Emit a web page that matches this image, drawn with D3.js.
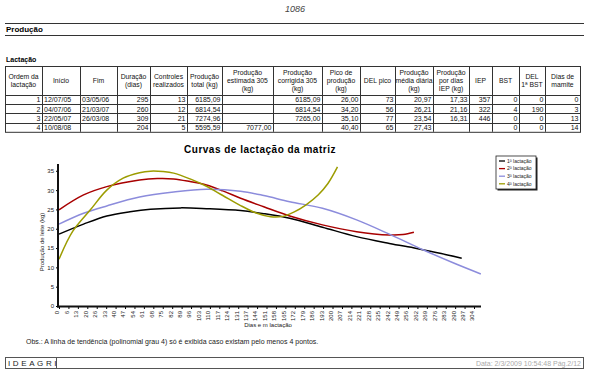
<!DOCTYPE html>
<html lang="pt">
<head>
<meta charset="UTF-8">
<title>Curvas de lactação</title>
<script src="https://d3js.org/d3.v7.min.js"></script>
<style>
    body{ margin:0; background:#fff; }
    text{ font-family: 'Liberation Sans', Arial, sans-serif; }
    .cell{ font-size: 7px; fill:#111; }
    .head{ font-size: 6.8px; fill:#111; text-anchor: middle; }
    .tick text{ font-size: 6px; fill:#222; }
</style>
</head>
<body>
<svg width="589" height="378"></svg>
<script>
    // ---- data ----
    const headers = [["Ordem da","lactação"],["Início"],["Fim"],["Duração","(dias)"],["Controles","realizados"],
        ["Produção","total (kg)"],["Produção","estimada 305","(kg)"],["Produção","corrigida 305","(kg)"],
        ["Pico de","produção","(kg)"],["DEL pico"],["Produção","média diária","(kg)"],["Produção","por dias","IEP (kg)"],
        ["IEP"],["BST"],["DEL","1ª BST"],["Dias de","mamite"]];
    const rows = [
        ["1","12/07/05","03/05/06","295","13","6185,09","","6185,09","26,00","73","20,97","17,33","357","0","0","0"],
        ["2","04/07/06","21/03/07","260","12","6814,54","","6814,54","34,20","56","26,21","21,16","322","4","190","3"],
        ["3","22/05/07","26/03/08","309","21","7274,96","","7265,00","35,10","77","23,54","16,31","446","0","0","13"],
        ["4","10/08/08","","204","5","5595,59","7077,00","","40,40","65","27,43","","","0","0","14"]
    ];
    const series = ["1ª lactação","2ª lactação","3ª lactação","4ª lactação"];
    // [dias, kg] points
    const lact1 = [[0,18.6],[18,21.2],[35,23.3],[52,24.4],[67,25.05],[89,25.4],[108,25.2],[133,24.7],[150,23.9],
        [169,22.7],[193,20.4],[218,17.96],[242,16.2],[262,14.9],[280,13.6],[295,12.35]];
    const lact2 = [[0,24.9],[18,28.75],[35,30.9],[59,32.6],[72,33.0],[84,32.9],[96,32.2],[108,31.3],[120,29.8],
        [133,27.9],[150,25.7],[169,23.3],[193,21.0],[218,19.25],[242,18.4],[252,18.5],[260,19.1]];
    const lact3 = [[0,21.2],[18,24.0],[35,25.9],[59,28.2],[84,29.5],[108,30.2],[133,29.7],[150,28.6],[169,27.0],
        [193,25.3],[218,22.3],[242,18.6],[267,14.5],[290,11.0],[309,8.3]];
    const lact4 = [[0,12.1],[10,19.3],[23,24.9],[35,30.0],[47,33.1],[59,34.5],[67,34.9],[76,34.8],[84,34.4],
        [96,32.9],[108,31.0],[120,28.6],[133,26.0],[145,24.0],[155,23.1],[164,23.2],[172,24.3],[181,26.2],
        [190,28.8],[197,31.7],[204,36.0]];
    const dayTicks = ["0","6","13","20","26","33","40","47","54","61","68","75","82","89","96","103","110","117",
        "124","131","137","144","151","158","165","172","179","186","193","200","207","214","221","228","235",
        "242","249","256","262","269","276","283","290","297","304"];
    const kgTicks = [0,5,10,15,20,25,30,35];

    const colors = ["#000000","#a80000","#8c8cdc","#9c9c00"];
    const svg = d3.select("svg");

    // ---- page header ----
    svg.append("text").text("1086").attr("x",295).attr("y",12)
        .attr("text-anchor","middle").style("font-size","9px").style("font-style","italic").attr("fill","#444");
    [23,35].forEach(y => svg.append("line").attr("x1",5).attr("x2",584).attr("y1",y+0.5).attr("y2",y+0.5)
        .attr("stroke","#333"));
    svg.append("text").text("Produção").attr("x",6).attr("y",32)
        .style("font-size","8px").style("font-weight","bold");
    svg.append("text").text("Lactação").attr("x",6).attr("y",62)
        .style("font-size","7px").style("font-weight","bold");

    // ---- table ----
    const colEdges = [5,42,80,117,150,187,222,273,322,360,395,433,469,492,519,545,580];
    const headTop = 66, headBot = 95, rowH = 9.2;
    const tb = svg.append("g").attr("class","table");
    const tableBot = headBot + rows.length*rowH;
    tb.append("rect").attr("x",colEdges[0]+0.5).attr("y",headTop+0.5)
        .attr("width",colEdges[colEdges.length-1]-colEdges[0]).attr("height",tableBot-headTop)
        .attr("fill","none").attr("stroke","#333");
    colEdges.slice(1,-1).forEach(x => tb.append("line").attr("x1",x+0.5).attr("x2",x+0.5)
        .attr("y1",headTop).attr("y2",tableBot).attr("stroke","#333"));
    d3.range(rows.length).forEach(i => tb.append("line").attr("x1",colEdges[0]).attr("x2",colEdges[colEdges.length-1])
        .attr("y1",Math.round(headBot+i*rowH)+0.5).attr("y2",Math.round(headBot+i*rowH)+0.5).attr("stroke","#333"));
    headers.forEach((lines,c) => {
        const cx = (colEdges[c]+colEdges[c+1])/2;
        const y0 = (headTop+headBot)/2 - (lines.length-1)*4 + 2.5;
        lines.forEach((t,k) => tb.append("text").attr("class","head").attr("x",cx).attr("y",y0+k*8).text(t));
    });
    rows.forEach((r,i) => {
        const y = headBot + i*rowH + 7.3;
        r.forEach((v,c) => {
            const left = (c === 1 || c === 2);
            tb.append("text").attr("class","cell")
                .attr("x", left ? colEdges[c]+2 : colEdges[c+1]-1.5)
                .attr("y", y).attr("text-anchor", left ? "start" : "end").text(v);
        });
    });

    // ---- chart ----
    const x = d3.scaleLinear().domain([0,304]).range([59,474]);
    const xBand = d3.scalePoint().domain(dayTicks).range([59,474]);
    const y = d3.scaleLinear().domain([0,36.5]).range([306,165]);

    svg.append("text").text("Curvas de lactação da matriz").attr("x",260).attr("y",153)
        .attr("text-anchor","middle").style("font-size","10px").style("font-weight","bold")
        .style("letter-spacing","0.5px");

    const line = d3.line().x(d => x(d[0])).y(d => y(d[1])).curve(d3.curveCatmullRom);
    [lact1,lact2,lact3,lact4].forEach((pts,i) => {
        svg.append("path").attr("d",line(pts)).attr("fill","none")
            .attr("stroke",colors[i]).attr("stroke-width",1.5);
    });

    const yG = svg.append("g").attr("transform","translate(58,0)")
        .call(d3.axisLeft(y).tickValues(kgTicks).tickSize(2).tickSizeOuter(0).tickPadding(2));
    yG.select(".domain").remove();
    const xG = svg.append("g").attr("transform","translate(0,307)")
        .call(d3.axisBottom(xBand).tickSize(2).tickSizeOuter(0));
    xG.select(".domain").remove();
    xG.selectAll(".tick text").attr("transform","rotate(-90)")
        .attr("text-anchor","end").attr("x",-4).attr("y",-2).attr("dy","0.32em");

    // heavy axis lines
    svg.append("line").attr("x1",58).attr("x2",58).attr("y1",164).attr("y2",307.5)
        .attr("stroke","#111").attr("stroke-width",2);
    svg.append("line").attr("x1",57).attr("x2",481).attr("y1",306.5).attr("y2",306.5)
        .attr("stroke","#111").attr("stroke-width",2);

    svg.append("text").text("Produção de leite (kg)")
        .attr("transform","translate(44,242) rotate(-90)").attr("text-anchor","middle")
        .style("font-size","6px").attr("fill","#222");
    svg.append("text").text("Dias e m lactação").attr("x",268).attr("y",327)
        .attr("text-anchor","middle").style("font-size","6px").attr("fill","#222");

    // legend
    const lg = svg.append("g").attr("transform","translate(496,156)");
    lg.append("rect").attr("x",1.5).attr("y",1.5).attr("width",40).attr("height",33).attr("fill","#222");
    lg.append("rect").attr("x",0).attr("y",0).attr("width",40).attr("height",33)
        .attr("fill","#fff").attr("stroke","#222").attr("stroke-width",0.8);
    series.forEach((s,i) => {
        const yy = 5 + i*7.6;
        lg.append("line").attr("x1",3).attr("x2",9).attr("y1",yy).attr("y2",yy)
            .attr("stroke",colors[i]).attr("stroke-width",1.3);
        lg.append("text").text(s).attr("x",11).attr("y",yy+1.8).style("font-size","5px").attr("fill","#222");
    });

    // ---- footer ----
    svg.append("text").text("Obs.: A linha de tendência (polinomial grau 4) só é exibida caso existam pelo menos 4 pontos.")
        .attr("x",26).attr("y",344).style("font-size","7px").attr("fill","#222");
    svg.append("rect").attr("x",5.5).attr("y",357.5).attr("width",578).attr("height",11)
        .attr("fill","none").attr("stroke","#555");
    svg.append("line").attr("x1",56.5).attr("x2",56.5).attr("y1",357.5).attr("y2",368.5).attr("stroke","#555");
    svg.append("text").text("IDEAGRI").attr("x",8).attr("y",366)
        .style("font-size","8px").style("letter-spacing","2.6px").attr("fill","#222");
    svg.append("text").text("Data: 2/3/2009 10:54:48 Pág.2/12").attr("x",581).attr("y",366)
        .attr("text-anchor","end").style("font-size","7px").attr("fill","#aaa");
</script>
</body>
</html>
